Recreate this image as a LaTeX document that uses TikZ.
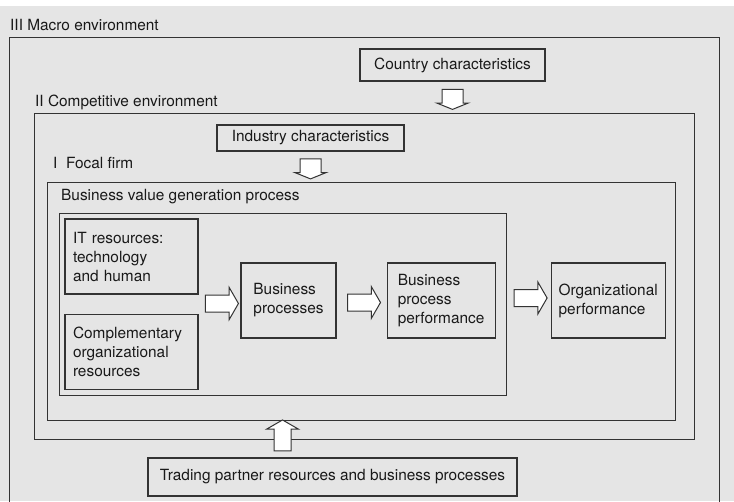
\documentclass[tikz,border=0pt]{standalone}
\usepackage{fontspec}
\setmainfont{TeX Gyre Heros}
\usepackage{tikz}
\usetikzlibrary{positioning, calc, shapes.arrows}
\definecolor{panel}{HTML}{E5E5E5}
\definecolor{ink}{HTML}{333333}
\tikzstyle{frame} = [draw=ink, line width=1.25pt, anchor=north west, inner sep=0pt]
\tikzstyle{box} = [draw=ink, line width=1.1pt, align=left, inner sep=0pt, text=black!90]
\tikzstyle{lbl} = [anchor=base west, inner sep=0pt, text=black!90]
\tikzstyle{fat} = [single arrow, draw=ink, fill=white, line width=1pt, inner sep=0pt, inner ysep=8pt, single arrow head extend=7.5pt, single arrow tip angle=120]

\begin{document}
\begin{tikzpicture}[x=1pt, y=-1pt, font=\fontsize{15.4}{19}\selectfont]
\clip (0,0) rectangle (734,501);
\fill[white] (0,0) rectangle (734,501);
\fill[panel] (0,6) rectangle (734,501);

% nested environments
\node[frame, minimum width=710pt, minimum height=483pt] (macro) at (9,37) {};
\node[frame, minimum width=660pt, minimum height=326pt] (comp) at (34,113) {};
\node[frame, minimum width=628pt, minimum height=238pt] (focal) at (47,182) {};
\node[frame, minimum width=447pt, minimum height=182pt] (bvgp) at (59,213) {};

\node[lbl] (lmacro) at ([shift={(1pt,7pt)}]macro.north west) {III Macro environment};
\node[lbl] (lcomp) at ([shift={(1pt,7pt)}]comp.north west) {II Competitive environment};
\node[lbl] (lfocal) at ([shift={(6pt,14pt)}]focal.north west) {I~~Focal firm};
\node[lbl] (lbvgp) at ([shift={(2pt,13pt)}]bvgp.north west) {Business value generation process};

% boxes
\node[box, minimum width=185pt, minimum height=32pt] (country) at (452.5,65) {Country characteristics};
\node[box, minimum width=187pt, minimum height=26pt] (industry) at (310.5,138) {Industry characteristics};
\node[box, text width=117pt, inner xsep=8pt, minimum height=75pt] (itres) at (131.5,256.5) {IT resources:\\technology\\and human};
\node[box, text width=117pt, inner xsep=8pt, minimum height=75pt, below=19pt of itres] (compl) {Complementary\\organizational\\resources};
\node[box, minimum width=95pt, minimum height=75pt] (bp) at (288.5,300.5) {Business\\processes};
\node[box, minimum width=108pt, minimum height=75pt, right=50pt of bp] (bpp) {Business\\process\\performance};
\node[box, minimum width=114pt, minimum height=75pt, right=55pt of bpp] (orgp) {Organizational\\performance};
\node[box, minimum width=369pt, minimum height=38pt] (trading) at (332.5,477) {Trading partner resources and business processes};

% block arrows
\node[fat, rotate=-90, minimum height=20pt, inner ysep=10pt, single arrow head extend=5pt, single arrow tip angle=136] (a1) at ($(country.south)!.5!(country.south |- comp.north)$) {};
\node[fat, rotate=-90, minimum height=20pt, inner ysep=10pt, single arrow head extend=5pt, single arrow tip angle=136] (a2) at ($(industry.south)!.5!(industry.south |- focal.north)$) {};
\node[fat, minimum height=33pt, yshift=-3pt] (a3) at ($(itres.east |- bp.west)!.5!(bp.west)$) {};
\node[fat, minimum height=33pt, yshift=-2pt] (a4) at ($(bp.east)!.5!(bpp.west)$) {};
\node[fat, minimum height=33pt, xshift=5pt, yshift=2.5pt] (a5) at ($(bpp.east)!.5!(orgp.west)$) {};
\coordinate (up) at ($(trading.north west)!.365!(trading.north east)$);
\node[fat, rotate=90, anchor=tail, minimum height=31pt] (a6) at ([yshift=6pt]up) {};
\end{tikzpicture}
\end{document}
